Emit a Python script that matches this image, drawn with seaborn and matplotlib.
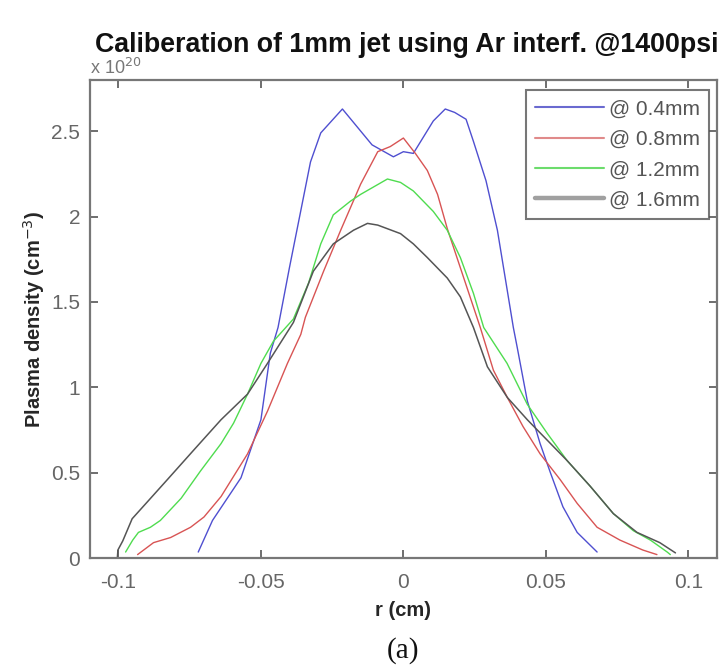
import numpy as np
import pandas as pd
import matplotlib
matplotlib.use("Agg")
import matplotlib.pyplot as plt
import seaborn as sns

# ---- data (r in cm, density in 1e20 cm^-3) ----
labels = ["@ 0.4mm", "@ 0.8mm", "@ 1.2mm", "@ 1.6mm"]

r_04 = [-0.072, -0.067, -0.057, -0.050, -0.0467, -0.044, -0.040, -0.0326, -0.029, -0.0214,
        -0.011, -0.0035, 0.0, 0.0035, 0.0105, 0.0147, 0.018, 0.022, 0.0246, 0.029, 0.033,
        0.0386, 0.040, 0.0435, 0.048, 0.0516, 0.056, 0.061, 0.068]
n_04 = [0.035, 0.22, 0.47, 0.81, 1.20, 1.35, 1.70, 2.32, 2.49, 2.63,
        2.42, 2.35, 2.38, 2.37, 2.56, 2.63, 2.61, 2.57, 2.44, 2.21, 1.92,
        1.35, 1.23, 0.92, 0.67, 0.50, 0.30, 0.15, 0.035]

r_08 = [-0.0933, -0.0877, -0.0817, -0.0747, -0.070, -0.064, -0.0547, -0.0477, -0.0407, -0.036,
        -0.0344, -0.028, -0.022, -0.015, -0.009, -0.0046, 0.0, 0.0042, 0.0084, 0.012, 0.0154,
        0.020, 0.027, 0.0316, 0.0365, 0.042, 0.048, 0.055, 0.061, 0.068, 0.076, 0.084, 0.089]
n_08 = [0.02, 0.09, 0.12, 0.18, 0.24, 0.36, 0.61, 0.86, 1.14, 1.31,
        1.41, 1.68, 1.92, 2.19, 2.38, 2.41, 2.46, 2.37, 2.27, 2.13, 1.93,
        1.70, 1.35, 1.10, 0.94, 0.77, 0.61, 0.46, 0.32, 0.18, 0.105, 0.047, 0.02]

r_12 = [-0.0975, -0.095, -0.093, -0.0888, -0.0853, -0.078, -0.0712, -0.064, -0.0596, -0.0547,
        -0.050, -0.0456, -0.0386, -0.0333, -0.029, -0.0246, -0.0186, -0.015, -0.0056, -0.001,
        0.0035, 0.0105, 0.0154, 0.020, 0.0246, 0.0282, 0.0364, 0.0435, 0.0505, 0.0575, 0.0656,
        0.0737, 0.0807, 0.0867, 0.0926, 0.0937]
n_12 = [0.035, 0.105, 0.15, 0.18, 0.22, 0.35, 0.51, 0.67, 0.79, 0.96,
        1.14, 1.27, 1.40, 1.61, 1.84, 2.01, 2.09, 2.13, 2.22, 2.20,
        2.15, 2.03, 1.92, 1.76, 1.55, 1.35, 1.14, 0.90, 0.73, 0.57, 0.42,
        0.26, 0.16, 0.105, 0.035, 0.02]

r_16 = [-0.1004, -0.1002, -0.0985, -0.0952, -0.0898, -0.0828, -0.0737, -0.064, -0.0547, -0.0477,
        -0.0386, -0.0316, -0.0246, -0.0175, -0.0126, -0.009, -0.001, 0.0035, 0.0084, 0.0154,
        0.020, 0.0246, 0.0295, 0.0365, 0.0435, 0.0505, 0.0575, 0.0656, 0.0737, 0.082, 0.090, 0.0955]
n_16 = [0.0, 0.047, 0.10, 0.23, 0.33, 0.46, 0.63, 0.81, 0.96, 1.14,
        1.38, 1.68, 1.84, 1.92, 1.96, 1.95, 1.90, 1.84, 1.76, 1.64,
        1.53, 1.35, 1.12, 0.94, 0.81, 0.69, 0.57, 0.42, 0.26, 0.15, 0.09, 0.03]

x_ticks = [-0.1, -0.05, 0, 0.05, 0.1]
x_ticklabels = ["-0.1", "-0.05", "0", "0.05", "0.1"]
y_ticks = [0, 0.5, 1, 1.5, 2, 2.5]
y_ticklabels = ["0", "0.5", "1", "1.5", "2", "2.5"]

colors = ["#4f4fd0", "#d85454", "#4fdc4f", "#555555"]

frames = []
for lab, r, n in zip(labels, [r_04, r_08, r_12, r_16], [n_04, n_08, n_12, n_16]):
    frames.append(pd.DataFrame({"r": r, "n": n, "series": lab}))
df = pd.concat(frames, ignore_index=True)

sns.set_style("white")
plt.rcParams["font.family"] = ["Liberation Sans", "DejaVu Sans"]

fig = plt.figure(figsize=(7.24, 6.71), dpi=100)
ax = fig.add_axes([0.1243, 0.1684, 0.8657, 0.7124])

sns.lineplot(data=df, x="r", y="n", hue="series", hue_order=labels,
             palette=dict(zip(labels, colors)), estimator=None, sort=False,
             linewidth=1.0, ax=ax)
for line, lw in zip(ax.lines, [1.0, 1.0, 1.0, 1.1]):
    line.set_linewidth(lw)

ax.set_xlim(-0.11, 0.11)
ax.set_ylim(0, 2.8)
ax.set_xticks(x_ticks)
ax.set_xticklabels(x_ticklabels)
ax.set_yticks(y_ticks)
ax.set_yticklabels(y_ticklabels)
ax.tick_params(direction="in", length=6, width=1.2, color="#555555",
               labelcolor="#666666", labelsize=15, top=True, right=True,
               bottom=True, left=True)
ax.tick_params(axis="x", pad=11)
ax.tick_params(axis="y", pad=7)
for s in ax.spines.values():
    s.set_color("#777777")
    s.set_linewidth(1.6)

ax.set_xlabel("r (cm)", fontsize=14.5, fontweight="bold", labelpad=6)
ax.set_ylabel("Plasma density (cm$^{-3}$)", fontsize=14.5, fontweight="bold", labelpad=3)

fig.text(0.131, 0.933, "Caliberation of 1mm jet using Ar interf. @1400psi",
         fontsize=19.3, fontweight="bold", ha="left", va="center", color="#111111")
fig.text(0.124, 0.899, r"x 10$^{20}$", fontsize=13, color="#777777",
         ha="left", va="center")
fig.text(0.556, 0.031, "(a)", fontsize=21, family=["Liberation Serif", "DejaVu Serif"],
         ha="center", va="center", color="#111111")

leg = ax.legend(handles=ax.lines[:4], labels=labels, loc="upper right",
                bbox_to_anchor=(0.988, 0.979), fontsize=15, frameon=True,
                fancybox=False, edgecolor="#555555", handlelength=3.3,
                handletextpad=0.25, labelspacing=0.55, borderpad=0.45,
                borderaxespad=0.0)
leg.get_frame().set_linewidth(1.5)
for t in leg.get_texts():
    t.set_color("#555555")
for h, lw, c in zip(leg.get_lines(), [1.5, 1.5, 1.5, 3.2],
                    ["#6a6ad0", "#e08a8a", "#6cdc6c", "#a0a0a0"]):
    h.set_linewidth(lw)
    h.set_color(c)

fig.savefig("out.png", dpi=100, facecolor="white")
